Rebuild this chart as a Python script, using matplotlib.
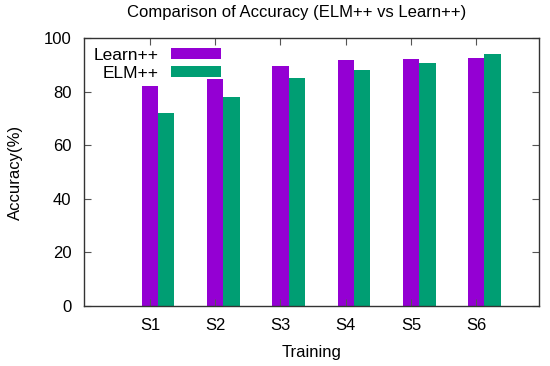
import matplotlib
matplotlib.use("Agg")
import matplotlib.pyplot as plt
import numpy as np

categories = ["S1", "S2", "S3", "S4", "S5", "S6"]
learn_pp = [82, 84.7, 89.7, 91.7, 92.0, 92.7]
elm_pp = [72, 78.1, 85.2, 87.9, 90.7, 94.0]
series_names = ["Learn++", "ELM++"]
yticks = [0, 20, 40, 60, 80, 100]

plt.rcParams['font.family'] = ['Liberation Sans', 'DejaVu Sans']

fig = plt.figure(figsize=(5.5, 3.66), dpi=100)
ax = fig.add_axes([84/550, 60/366, (539-84)/550, (306-38)/366])

x = np.arange(len(categories))
w = 0.25
ax.bar(x, learn_pp, width=w, color="#9400D3", label=series_names[0])
ax.bar(x + w, elm_pp, width=w, color="#009E73", label=series_names[1])

ax.set_xlim(-1.01, 5.96)
ax.set_ylim(0, 100)
ax.set_yticks(yticks)
ax.set_xticks(x)
ax.set_xticklabels(categories)
ax.tick_params(direction="in", top=True, right=True, labelsize=12, length=5,
               width=0.8, color="#555555", pad=9)
for s in ax.spines.values():
    s.set_color("#333333")
    s.set_linewidth(1.0)

fig.text(297/550, 1 - 13/366, "Comparison of Accuracy (ELM++ vs Learn++)",
         fontsize=12, ha="center", va="center")
ax.set_xlabel("Training", fontsize=12, labelpad=8)
ax.set_ylabel("Accuracy(%)", fontsize=12, labelpad=15)

leg = ax.legend(loc="upper left", frameon=False, markerfirst=False, fontsize=12.5,
                handlelength=2.9, handleheight=0.6, labelspacing=0.2,
                borderaxespad=0.15, handletextpad=0.7)

fig.savefig("out.png", dpi=100)
